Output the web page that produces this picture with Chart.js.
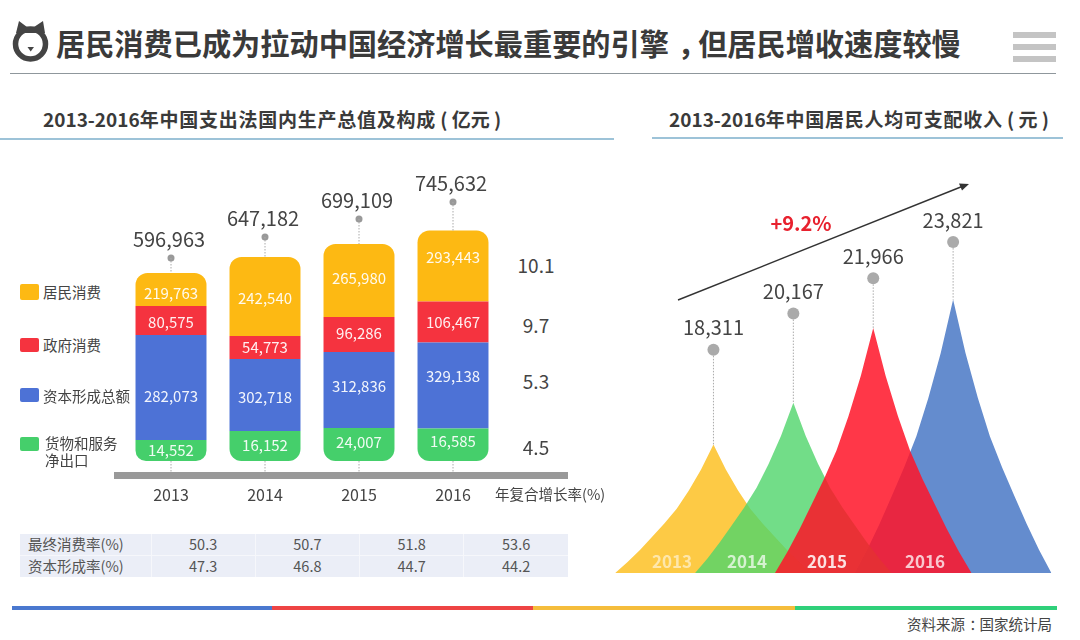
<!DOCTYPE html>
<html lang="zh-CN">
<head>
<meta charset="utf-8">
<title>居民消费已成为拉动中国经济增长最重要的引擎</title>
<script src="https://cdn.jsdelivr.net/npm/chart.js@4/dist/chart.umd.js"></script>
<style>
	html, body { margin: 0; padding: 0; background: #fff; }
	body { width: 1080px; height: 640px; position: relative; overflow: hidden; font-family: "Noto Sans CJK SC", "Noto Sans", sans-serif; color: #444; }
	canvas { position: absolute; }
	.txt { position: absolute; white-space: nowrap; line-height: 1.2; transform: translateY(-50%); }
	.mid { transform: translate(-50%, -50%); }
	.box { position: absolute; }
	.punct { position: relative; left: 0.3em; }
	.wide { letter-spacing: 0.75px; }
	svg { position: absolute; left: 0; top: 0; }
	table { position: absolute; left: 20px; top: 534px; width: 548px; height: 43px; border-collapse: collapse; table-layout: fixed; background: #ebeef7; font-size: 14.5px; color: #555; }
	td { border: 1px solid #f6f7fb; padding: 0; text-align: center; line-height: 1; }
	td:first-child { width: 131px; text-align: left; padding-left: 8px; box-sizing: border-box; }
	table, tr:first-child td { border-top: none; }
	tr:last-child td { border-bottom: none; }
	td:first-child { border-left: none; }
	td:last-child { border-right: none; }
</style>
</head>
<body>

<svg width="1080" height="640">
	<circle cx="30.5" cy="44" r="15" fill="none" stroke="#444" stroke-width="5.5"/>
	<path d="M16 33 L19 21 L27 27 L34 27 L43 21 L45 33 Z" fill="#444"/>
	<path d="M27.5 47 L34 47 L30.7 51.5 Z" fill="#444"/>
	<line x1="678" y1="300" x2="962" y2="186.5" stroke="#333" stroke-width="1.4"/>
	<path d="M969 184 L959 183.5 L962 190.5 Z" fill="#333"/>
</svg>
<canvas id="gdpChart" width="376" height="360" style="left:124px;top:150px"></canvas>
<canvas id="incomeChart" width="448" height="423" style="left:612px;top:150px"></canvas>

<script>
const years = ['2013', '2014', '2015', '2016'];

// Printed figures of the GDP bars (亿元)
const householdValues = [219763, 242540, 265980, 293443];
const governmentValues = [80575, 54773, 96286, 106467];
const capitalValues = [282073, 302718, 312836, 329138];
const netExportValues = [14552, 16152, 24007, 16585];
const gdpTotals = ['596,963', '647,182', '699,109', '745,632'];

// The reference does not draw its segments to scale with the printed figures,
// so these are the segment lengths, in the same axis units.
const householdDrawn = [105600, 252800, 233600, 227200];
const governmentDrawn = [92800, 73600, 112000, 131200];
const capitalDrawn = [336000, 230400, 243200, 275200];
const netExportDrawn = [67200, 96000, 105600, 104000];
const leaderLevels = [649600, 716800, 774400, 828800];

const cagrLabels = ['10.1', '9.7', '5.3', '4.5'];
const consumptionRates = ['50.3', '50.7', '51.8', '53.6'];
const capitalRates = ['47.3', '46.8', '44.7', '44.2'];

// Per capita disposable income (元)
const incomeYears = [2013, 2014, 2015, 2016];
const incomeValues = [18311, 20167, 21966, 23821];

// One flank of each peak, from the summit down
const slopeOffsets = [0, 0.155, 0.31, 0.46, 0.615, 0.77, 0.92, 1.075, 1.23];
const peak2013 = [13470, 12190, 11100, 10190, 9430, 8740, 8080, 7460, 6900];
const peak2014 = [15610, 13910, 12480, 11260, 10250, 9340, 8470, 7640, 6900];
const peak2015 = [19430, 16990, 14920, 13170, 11720, 10410, 9160, 7970, 6900];
const peak2016 = [20880, 18150, 15850, 13890, 12280, 10810, 9420, 8090, 6900];

const seriesColors = { household: '#fdb913', government: '#f5333f', capital: '#4d72d6', netExport: '#45cf6b' };

// the labels in the reference do not sit exactly mid-segment (px, net export first)
const labelNudge = [
	[0, -1, -2, -3],
	[9, 2, -4, -9],
	[2, 0, -1, 0],
	[4, 1.5, -2.5, -8.5]
];

function addText(html, x, y, size, css, centered) {
	const el = document.createElement('div');
	el.className = centered ? 'txt mid' : 'txt';
	el.innerHTML = html;
	el.style.cssText = `left:${x}px;top:${y}px;font-size:${size}px;${css || ''}`;
	document.body.appendChild(el);
	return el;
}

function addBox(x, y, w, h, color, radius) {
	const el = document.createElement('div');
	el.className = 'box';
	el.style.cssText = `left:${x}px;top:${y}px;width:${w}px;height:${h}px;background:${color};border-radius:${radius || 0}px`;
	document.body.appendChild(el);
}

function buildPage() {
	addText('居民消费已成为拉动中国经济增长最重要的引擎<span class="punct">，</span>但居民增收速度较慢', 56, 43, 29.2, 'font-weight:700;color:#3a3a3a');
	addBox(10, 73, 1046, 1, '#8f979c');
	addBox(1013, 32, 43, 6, '#c4c4c4');
	addBox(1013, 44, 43, 6, '#c4c4c4');
	addBox(1013, 56, 43, 6, '#c4c4c4');

	addText('2013-2016<span class="wide">年中国支出法国内生产总值及构成</span> ( 亿元 )', 43, 119, 19, 'font-weight:700;color:#3a3a3a');
	addBox(0, 138, 614, 1.5, '#9dc3d8');
	addText('2013-2016<span class="wide">年中国居民人均可支配收入</span> ( 元 )', 669, 119, 19, 'font-weight:700;color:#3a3a3a');
	addBox(652, 137, 411, 1.5, '#9dc3d8');

	// legend of the stacked bars
	addBox(20, 284, 19, 16, seriesColors.household, 2);
	addText('居民消费', 43, 292, 14.5);
	addBox(20, 338, 19, 14, seriesColors.government, 2);
	addText('政府消费', 43, 345, 14.5);
	addBox(20, 388, 19, 14, seriesColors.capital, 2);
	addText('资本形成总额', 43, 396, 14.5);
	addBox(20, 437, 19, 14, seriesColors.netExport, 2);
	addText('货物和服务', 45, 443, 14.5);
	addText('净出口', 45, 460, 14.5);

	addBox(114, 472, 454, 7, '#999');
	addText('年复合增长率(%)', 495, 494, 14.5);

	const cagrY = [265, 325, 381, 447];
	cagrLabels.forEach((label, i) => addText(label, 536, cagrY[i], 19, '', true));

	const table = document.createElement('table');
	[['最终消费率(%)', consumptionRates], ['资本形成率(%)', capitalRates]].forEach(row => {
		const tr = table.insertRow();
		tr.insertCell().textContent = row[0];
		row[1].forEach(v => { tr.insertCell().textContent = v; });
	});
	document.body.appendChild(table);

	addText('+9.2%', 801, 223, 20, 'font-weight:700;color:#e8212e', true);
	const peakLabelX = [672, 747, 827, 925];
	const peakLabelAlpha = [0.55, 0.7, 0.85, 0.75];
	years.forEach((year, i) => {
		addText(year, peakLabelX[i], 561, 17, `font-weight:700;color:rgba(255,255,255,${peakLabelAlpha[i]});z-index:2`, true);
	});

	addBox(12, 606, 260, 3.5, '#4a78cf');
	addBox(272, 606, 261, 3.5, '#ee4444');
	addBox(533, 606, 262, 3.5, '#f5bd3c');
	addBox(795, 606, 262, 3.5, '#2fd07a');
	addText('资料来源<span class="punct">：</span>国家统计局', 907, 624, 14.5);
}

const barText = {
	id: 'barText',
	afterDatasetsDraw(chart) {
		const ctx = chart.ctx;
		const leaders = chart.getDatasetMeta(4).data;
		const tops = chart.getDatasetMeta(3).data;
		const bottoms = chart.getDatasetMeta(0).data;

		ctx.save();
		ctx.textAlign = 'center';
		ctx.textBaseline = 'middle';
		ctx.strokeStyle = '#aaa';
		ctx.lineWidth = 1;
		ctx.setLineDash([1.5, 1.5]);
		leaders.forEach((pt, i) => {
			ctx.beginPath();
			ctx.moveTo(pt.x, pt.y);
			ctx.lineTo(pt.x, tops[i].y);
			ctx.moveTo(pt.x, bottoms[i].base);
			ctx.lineTo(pt.x, chart.height - 38);
			ctx.stroke();
		});
		ctx.setLineDash([]);

		ctx.font = '20px "Noto Sans CJK SC"';
		ctx.fillStyle = '#444';
		leaders.forEach((pt, i) => ctx.fillText(gdpTotals[i], pt.x - 2, pt.y - 19));

		ctx.font = '15px "Noto Sans CJK SC"';
		ctx.fillStyle = 'rgba(255,255,255,0.92)';
		[netExportValues, capitalValues, governmentValues, householdValues].forEach((values, d) => {
			chart.getDatasetMeta(d).data.forEach((bar, i) => {
				ctx.fillText(values[i].toLocaleString('en-US'), bar.x, (bar.y + bar.base) / 2 + labelNudge[d][i]);
			});
		});
		ctx.restore();
	}
};

function renderGdpChart() {
	const radius = 12;
	new Chart(document.getElementById('gdpChart'), {
		data: {
			labels: years,
			datasets: [
				{ type: 'bar', label: '货物和服务净出口', data: netExportDrawn, backgroundColor: seriesColors.netExport, borderSkipped: false, borderRadius: { bottomLeft: radius, bottomRight: radius, topLeft: 0, topRight: 0 } },
				{ type: 'bar', label: '资本形成总额', data: capitalDrawn, backgroundColor: seriesColors.capital },
				{ type: 'bar', label: '政府消费', data: governmentDrawn, backgroundColor: seriesColors.government },
				{ type: 'bar', label: '居民消费', data: householdDrawn, backgroundColor: seriesColors.household, borderSkipped: false, borderRadius: { topLeft: radius, topRight: radius, bottomLeft: 0, bottomRight: 0 } },
				{ type: 'line', label: 'GDP', data: leaderLevels, stack: 'leaders', showLine: false, pointRadius: 3.5, pointBackgroundColor: '#999', pointBorderWidth: 0 }
			]
		},
		options: {
			responsive: false,
			animation: false,
			layout: { autoPadding: false },
			barPercentage: 0.755,
			categoryPercentage: 1,
			plugins: { legend: { display: false }, tooltip: { enabled: false } },
			scales: {
				x: {
					stacked: true,
					grid: { display: false, drawTicks: false },
					border: { display: false },
					ticks: { padding: 24, color: '#444', font: { size: 16, family: '"Noto Sans CJK SC"' }, maxRotation: 0 },
					afterFit(scale) { scale.height = 49; }
				},
				y: { stacked: true, display: false, min: 0, max: 995200 }
			}
		},
		plugins: [barText]
	});
}

const incomeText = {
	id: 'incomeText',
	afterDatasetsDraw(chart) {
		const ctx = chart.ctx;
		const dots = chart.getDatasetMeta(0).data;
		const y = chart.scales.y;
		const peaks = [peak2013, peak2014, peak2015, peak2016];

		ctx.save();
		ctx.strokeStyle = '#aaa';
		ctx.lineWidth = 1;
		ctx.setLineDash([1.5, 1.5]);
		dots.forEach((pt, i) => {
			ctx.beginPath();
			ctx.moveTo(pt.x, pt.y);
			ctx.lineTo(pt.x, y.getPixelForValue(peaks[i][0]));
			ctx.stroke();
		});
		ctx.setLineDash([]);
		ctx.font = '20px "Noto Sans CJK SC"';
		ctx.fillStyle = '#444';
		ctx.textAlign = 'center';
		ctx.textBaseline = 'middle';
		dots.forEach((pt, i) => ctx.fillText(incomeValues[i].toLocaleString('en-US'), pt.x, pt.y - 22));
		ctx.restore();
	}
};

function peakPoints(year, flank) {
	const down = flank.map((v, i) => ({ x: year + slopeOffsets[i], y: v }));
	const up = flank.slice(1).map((v, i) => ({ x: year - slopeOffsets[i + 1], y: v })).reverse();
	return up.concat(down);
}

function peakDataset(year, flank, color, order) {
	return { data: peakPoints(year, flank), showLine: true, tension: 0, fill: 'origin', backgroundColor: color, borderWidth: 0, pointRadius: 0, order: order };
}

function renderIncomeChart() {
	new Chart(document.getElementById('incomeChart'), {
		type: 'scatter',
		data: {
			datasets: [
				{ data: incomeYears.map((yr, i) => ({ x: yr, y: incomeValues[i] })), pointRadius: 6, pointBackgroundColor: '#aaa', pointBorderWidth: 0, order: 0 },
				peakDataset(2015, peak2015, 'rgba(255,20,40,0.85)', 1),
				peakDataset(2014, peak2014, 'rgba(79,212,106,0.8)', 2),
				peakDataset(2013, peak2013, '#fdca45', 3),
				peakDataset(2016, peak2016, '#648cce', 4)
			]
		},
		options: {
			responsive: false,
			animation: false,
			layout: { autoPadding: false },
			plugins: { legend: { display: false }, tooltip: { enabled: false } },
			scales: {
				x: { type: 'linear', display: false, min: 2011.73, max: 2017.338 },
				y: { display: false, min: 6900, max: 28530 }
			}
		},
		plugins: [incomeText]
	});
}

buildPage();
renderGdpChart();
renderIncomeChart();
</script>
</body>
</html>
